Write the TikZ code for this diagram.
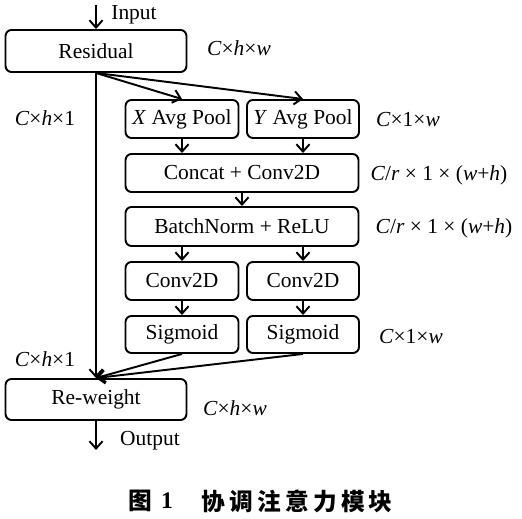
\documentclass[tikz,border=0pt]{standalone}
\usepackage{fontspec}
\setmainfont{Liberation Serif}
\newfontfamily\cjk{Noto Sans CJK SC}
\usetikzlibrary{arrows.meta}
\tikzset{
  blk/.style={draw, rounded corners=3.4pt, line width=1.1pt, inner sep=0pt, align=center},
  lbl/.style={inner sep=0pt},
  arr/.style={line width=1.1pt, -{Straight Barb[length=4.2pt,width=7.5pt,line width=1.1pt]}},
  ln/.style={line width=1.1pt}
}
\newcommand{\mi}[1]{\textit{#1}}
\begin{document}
\begin{tikzpicture}[x=0.02cm,y=-0.02cm,font=\fontsize{12.2}{14}\selectfont]
\useasboundingbox (0,0) rectangle (522,519);
% boxes
\node[blk, minimum width=3.62cm, minimum height=0.84cm] (res) at (96,51) {Residual};
\node[blk, minimum width=2.26cm, minimum height=0.76cm] (xap) at (182,119) {\mi{X} Avg Pool};
\node[blk, minimum width=2.24cm, minimum height=0.76cm] (yap) at (303,119) {\mi{Y} Avg Pool};
\node[blk, minimum width=4.66cm, minimum height=0.76cm] (cat) at (242,173) {Concat + Conv2D};
\node[blk, minimum width=4.66cm, minimum height=0.78cm] (bn) at (242,226.5) {BatchNorm + ReLU};
\node[blk, minimum width=2.26cm, minimum height=0.76cm] (cl) at (182,281) {Conv2D};
\node[blk, minimum width=2.24cm, minimum height=0.76cm] (cr) at (303,281) {Conv2D};
\node[blk, minimum width=2.26cm, minimum height=0.74cm] (sl) at (182,334.5) {Sigmoid};
\node[blk, minimum width=2.24cm, minimum height=0.74cm] (sr) at (303,334.5) {Sigmoid};
\node[blk, minimum width=3.62cm, minimum height=0.82cm] (rw) at (96,399.5) {Re-weight};
% labels
\coordinate (inp) at (96,5);
\coordinate (outp) at (96,450);
\node[lbl] (tin) at (134,15) {Input};
\node[lbl] (tout) at (150,441) {Output};
\node[lbl] (d1) at (239,48) {\mi{C}×\mi{h}×\mi{w}};
\node[lbl] (d2) at (45,118) {\mi{C}×\mi{h}×1};
\node[lbl] (d3) at (408,120) {\mi{C}×1×\mi{w}};
\node[lbl] (d4) at (439,175) {\mi{C}/\mi{r} × 1 × (\mi{w}+\mi{h})};
\node[lbl] (d5) at (444,228) {\mi{C}/\mi{r} × 1 × (\mi{w}+\mi{h})};
\node[lbl] (d6) at (411,337) {\mi{C}×1×\mi{w}};
\node[lbl] (d7) at (45,359) {\mi{C}×\mi{h}×1};
\node[lbl] (d8) at (235,408) {\mi{C}×\mi{h}×\mi{w}};
% connectors
\draw[arr] (inp) -- (res.north -| inp);
\draw[arr] (res.south) -- (xap.north);
\draw[arr] (res.south) -- (yap.north);
\draw[arr] (xap.south) -- (xap.south |- cat.north);
\draw[arr] (yap.south) -- (yap.south |- cat.north);
\draw[arr] (cat.south) -- (bn.north);
\draw[arr] (bn.south -| cl.south) -- (cl.north);
\draw[arr] (bn.south -| cr.south) -- (cr.north);
\draw[arr] (cl.south) -- (sl.north);
\draw[arr] (cr.south) -- (sr.north);
\draw[arr] (res.south) -- (rw.north);
\draw[arr] (sl.south) -- (rw.north);
\draw[arr] (sr.south) -- (rw.north);
\draw[arr] (rw.south) -- (outp);
% caption
\node[lbl, font=\cjk\bfseries\fontsize{13.5}{15}\selectfont] (cap1) at (140,501) {图};
\node[lbl, font=\bfseries\fontsize{13.5}{15}\selectfont] (cap2) at (167,501) {1};
\node[lbl, anchor=west, font=\cjk\bfseries\fontsize{13.5}{15}\selectfont] (cap3) at (201,501) {协\kern2.4pt 调\kern2.4pt 注\kern2.4pt 意\kern2.4pt 力\kern2.4pt 模\kern2.4pt 块};
\end{tikzpicture}
\end{document}
